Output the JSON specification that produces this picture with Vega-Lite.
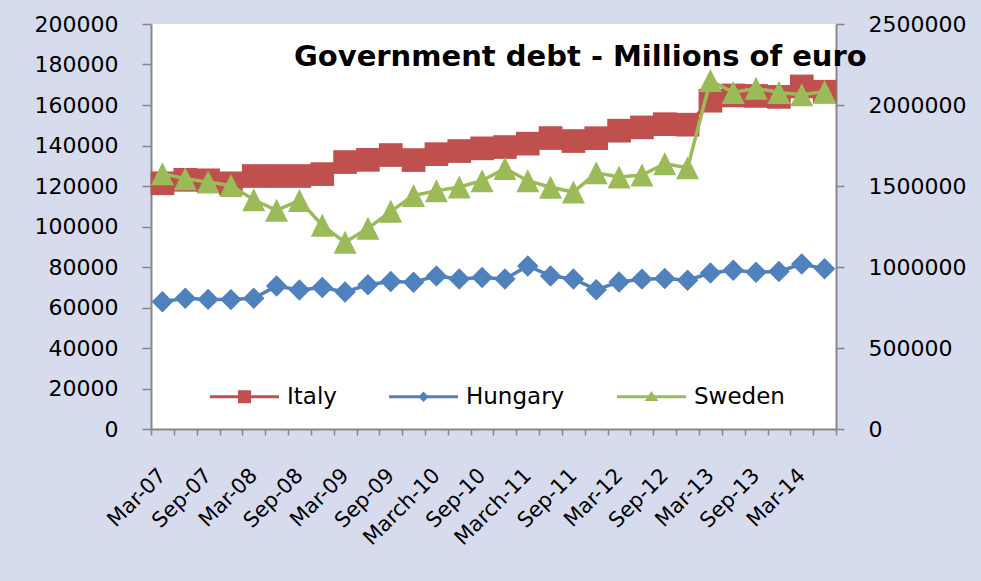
{
  "$schema": "https://vega.github.io/schema/vega-lite/v6.json",
  "width": 685,
  "height": 405,
  "autosize": {"type": "none"},
  "padding": {"left": 151, "top": 24, "right": 145, "bottom": 152},
  "background": "#d6dbee",
  "config": {
    "view": {"fill": "white", "stroke": null},
    "font": "DejaVu Sans",
    "axis": {
      "grid": false,
      "domainColor": "#878787",
      "domainWidth": 2,
      "tickColor": "#878787",
      "tickWidth": 1.5,
      "labelFont": "DejaVu Sans",
      "labelFontSize": 22,
      "labelColor": "#000000",
      "title": null
    }
  },
  "title": {
    "text": "Government debt - Millions of euro",
    "font": "DejaVu Sans",
    "fontSize": 29,
    "fontWeight": "bold",
    "color": "#000000",
    "anchor": "start",
    "frame": "group",
    "baseline": "alphabetic",
    "offset": 0,
    "dx": 143,
    "dy": 82
  },
  "datasets": {
    "debt": [
      {"quarter": "Mar-07", "country": "Italy", "debt": 1516600},
      {"quarter": "Jun-07", "country": "Italy", "debt": 1538200},
      {"quarter": "Sep-07", "country": "Italy", "debt": 1535100},
      {"quarter": "Dec-07", "country": "Italy", "debt": 1516600},
      {"quarter": "Mar-08", "country": "Italy", "debt": 1561600},
      {"quarter": "Jun-08", "country": "Italy", "debt": 1561600},
      {"quarter": "Sep-08", "country": "Italy", "debt": 1561600},
      {"quarter": "Dec-08", "country": "Italy", "debt": 1573300},
      {"quarter": "Mar-09", "country": "Italy", "debt": 1647900},
      {"quarter": "Jun-09", "country": "Italy", "debt": 1661500},
      {"quarter": "Sep-09", "country": "Italy", "debt": 1691100},
      {"quarter": "Dec-09", "country": "Italy", "debt": 1660200},
      {"quarter": "March-10", "country": "Italy", "debt": 1696600},
      {"quarter": "Jun-10", "country": "Italy", "debt": 1715700},
      {"quarter": "Sep-10", "country": "Italy", "debt": 1732400},
      {"quarter": "Dec-10", "country": "Italy", "debt": 1740400},
      {"quarter": "March-11", "country": "Italy", "debt": 1761300},
      {"quarter": "Jun-11", "country": "Italy", "debt": 1795900},
      {"quarter": "Sep-11", "country": "Italy", "debt": 1777400},
      {"quarter": "Dec-11", "country": "Italy", "debt": 1795200},
      {"quarter": "Mar-12", "country": "Italy", "debt": 1841500},
      {"quarter": "Jun-12", "country": "Italy", "debt": 1861800},
      {"quarter": "Sep-12", "country": "Italy", "debt": 1881600},
      {"quarter": "Dec-12", "country": "Italy", "debt": 1878500},
      {"quarter": "Mar-13", "country": "Italy", "debt": 2026400},
      {"quarter": "Jun-13", "country": "Italy", "debt": 2059000},
      {"quarter": "Sep-13", "country": "Italy", "debt": 2056000},
      {"quarter": "Dec-13", "country": "Italy", "debt": 2050000},
      {"quarter": "Mar-14", "country": "Italy", "debt": 2114600},
      {"quarter": "Jun-14", "country": "Italy", "debt": 2082000},
      {"quarter": "Mar-07", "country": "Hungary", "debt": 62800},
      {"quarter": "Jun-07", "country": "Hungary", "debt": 64600},
      {"quarter": "Sep-07", "country": "Hungary", "debt": 64000},
      {"quarter": "Dec-07", "country": "Hungary", "debt": 63900},
      {"quarter": "Mar-08", "country": "Hungary", "debt": 64600},
      {"quarter": "Jun-08", "country": "Hungary", "debt": 70600},
      {"quarter": "Sep-08", "country": "Hungary", "debt": 68600},
      {"quarter": "Dec-08", "country": "Hungary", "debt": 69900},
      {"quarter": "Mar-09", "country": "Hungary", "debt": 67700},
      {"quarter": "Jun-09", "country": "Hungary", "debt": 71200},
      {"quarter": "Sep-09", "country": "Hungary", "debt": 72800},
      {"quarter": "Dec-09", "country": "Hungary", "debt": 72500},
      {"quarter": "March-10", "country": "Hungary", "debt": 75600},
      {"quarter": "Jun-10", "country": "Hungary", "debt": 74100},
      {"quarter": "Sep-10", "country": "Hungary", "debt": 74800},
      {"quarter": "Dec-10", "country": "Hungary", "debt": 74100},
      {"quarter": "March-11", "country": "Hungary", "debt": 80500},
      {"quarter": "Jun-11", "country": "Hungary", "debt": 75600},
      {"quarter": "Sep-11", "country": "Hungary", "debt": 74100},
      {"quarter": "Dec-11", "country": "Hungary", "debt": 68800},
      {"quarter": "Mar-12", "country": "Hungary", "debt": 72600},
      {"quarter": "Jun-12", "country": "Hungary", "debt": 74000},
      {"quarter": "Sep-12", "country": "Hungary", "debt": 74300},
      {"quarter": "Dec-12", "country": "Hungary", "debt": 73500},
      {"quarter": "Mar-13", "country": "Hungary", "debt": 77000},
      {"quarter": "Jun-13", "country": "Hungary", "debt": 78400},
      {"quarter": "Sep-13", "country": "Hungary", "debt": 77400},
      {"quarter": "Dec-13", "country": "Hungary", "debt": 77800},
      {"quarter": "Mar-14", "country": "Hungary", "debt": 81500},
      {"quarter": "Jun-14", "country": "Hungary", "debt": 79100},
      {"quarter": "Mar-07", "country": "Sweden", "debt": 126100},
      {"quarter": "Jun-07", "country": "Sweden", "debt": 123600},
      {"quarter": "Sep-07", "country": "Sweden", "debt": 122000},
      {"quarter": "Dec-07", "country": "Sweden", "debt": 120200},
      {"quarter": "Mar-08", "country": "Sweden", "debt": 113200},
      {"quarter": "Jun-08", "country": "Sweden", "debt": 108000},
      {"quarter": "Sep-08", "country": "Sweden", "debt": 112900},
      {"quarter": "Dec-08", "country": "Sweden", "debt": 100600},
      {"quarter": "Mar-09", "country": "Sweden", "debt": 92200},
      {"quarter": "Jun-09", "country": "Sweden", "debt": 99100},
      {"quarter": "Sep-09", "country": "Sweden", "debt": 107500},
      {"quarter": "Dec-09", "country": "Sweden", "debt": 115300},
      {"quarter": "March-10", "country": "Sweden", "debt": 117600},
      {"quarter": "Jun-10", "country": "Sweden", "debt": 119500},
      {"quarter": "Sep-10", "country": "Sweden", "debt": 122600},
      {"quarter": "Dec-10", "country": "Sweden", "debt": 128700},
      {"quarter": "March-11", "country": "Sweden", "debt": 122600},
      {"quarter": "Jun-11", "country": "Sweden", "debt": 119400},
      {"quarter": "Sep-11", "country": "Sweden", "debt": 117000},
      {"quarter": "Dec-11", "country": "Sweden", "debt": 126500},
      {"quarter": "Mar-12", "country": "Sweden", "debt": 124400},
      {"quarter": "Jun-12", "country": "Sweden", "debt": 125400},
      {"quarter": "Sep-12", "country": "Sweden", "debt": 131000},
      {"quarter": "Dec-12", "country": "Sweden", "debt": 129000},
      {"quarter": "Mar-13", "country": "Sweden", "debt": 172100},
      {"quarter": "Jun-13", "country": "Sweden", "debt": 166200},
      {"quarter": "Sep-13", "country": "Sweden", "debt": 168300},
      {"quarter": "Dec-13", "country": "Sweden", "debt": 166200},
      {"quarter": "Mar-14", "country": "Sweden", "debt": 165100},
      {"quarter": "Jun-14", "country": "Sweden", "debt": 166700}
    ]
  },
  "data": {"name": "debt"},
  "encoding": {
    "x": {
      "field": "quarter",
      "type": "ordinal",
      "sort": ["Mar-07","Jun-07","Sep-07","Dec-07","Mar-08","Jun-08","Sep-08","Dec-08","Mar-09","Jun-09","Sep-09","Dec-09","March-10","Jun-10","Sep-10","Dec-10","March-11","Jun-11","Sep-11","Dec-11","Mar-12","Jun-12","Sep-12","Dec-12","Mar-13","Jun-13","Sep-13","Dec-13","Mar-14","Jun-14"],
      "scale": {"type": "band", "paddingInner": 0, "paddingOuter": 0},
      "axis": {
        "title": null,
        "tickBand": "extent",
        "tickSize": 6,
        "labelAngle": -45,
        "labelAlign": "right",
        "labelBaseline": "middle",
        "labelPadding": 37,
        "labelFontSize": 21,
        "labelOverlap": false,
        "labelExpr": "(indexof(datum.label,'Jun')==0 || indexof(datum.label,'Dec')==0) ? '' : datum.label"
      }
    },
    "color": {
      "field": "country",
      "type": "nominal",
      "scale": {"domain": ["Italy", "Hungary", "Sweden"], "range": ["#c0504d", "#4f81bd", "#9bbb59"]},
      "legend": {
        "title": null,
        "orient": "none",
        "direction": "horizontal",
        "legendX": 59,
        "legendY": 338,
        "padding": 0,
        "symbolSize": 4761,
        "symbolStrokeWidth": 0,
        "labelOffset": 8,
        "columnPadding": 52,
        "labelFont": "DejaVu Sans",
        "labelFontSize": 23,
        "labelColor": "#000000",
        "labelLimit": 300,
        "encode": {
          "symbols": {
            "update": {
              "shape": {"signal": "datum.value === 'Italy' ? 'M-1,-0.045H1V0.045H-1Z M-0.19,-0.19H0.19V0.19H-0.19Z' : (datum.value === 'Hungary' ? 'M-1,-0.045H1V0.045H-1Z M0,-0.15L0.15,0L0,0.15L-0.15,0Z' : 'M-1,-0.045H1V0.045H-1Z M0,-0.17L0.2,0.12H-0.2Z')"},
              "fill": {"signal": "datum.value === 'Italy' ? '#c0504d' : (datum.value === 'Hungary' ? '#4f81bd' : '#9bbb59')"},
              "stroke": {"value": "transparent"},
              "strokeWidth": {"value": 0},
              "opacity": {"value": 1},
              "fillOpacity": {"value": 1}
            }
          }
        }
      }
    }
  },
  "layer": [
    {
      "transform": [{"filter": "datum.country === 'Italy'"}],
      "encoding": {
        "y": {
          "field": "debt",
          "type": "quantitative",
          "scale": {"domain": [0, 2500000], "nice": false},
          "axis": {
            "orient": "right",
            "title": null,
            "values": [0, 500000, 1000000, 1500000, 2000000, 2500000],
            "format": "d",
            "tickSize": 8,
            "labelPadding": 24
          }
        }
      },
      "layer": [
        {"mark": {"type": "line", "strokeWidth": 3.5}},
        {"mark": {"type": "point", "shape": "square", "filled": true, "opacity": 1, "size": 560}}
      ]
    },
    {
      "transform": [{"filter": "datum.country !== 'Italy'"}],
      "encoding": {
        "y": {
          "field": "debt",
          "type": "quantitative",
          "scale": {"domain": [0, 200000], "nice": false},
          "axis": {
            "orient": "left",
            "title": null,
            "values": [0, 20000, 40000, 60000, 80000, 100000, 120000, 140000, 160000, 180000, 200000],
            "format": "d",
            "tickSize": 9,
            "labelPadding": 24
          }
        }
      },
      "layer": [
        {"transform": [{"filter": "datum.country === 'Hungary'"}], "mark": {"type": "line", "strokeWidth": 3.5}},
        {"transform": [{"filter": "datum.country === 'Hungary'"}], "mark": {"type": "point", "shape": "diamond", "filled": true, "opacity": 1, "size": 460}},
        {"transform": [{"filter": "datum.country === 'Sweden'"}], "mark": {"type": "line", "strokeWidth": 3.5}},
        {"transform": [{"filter": "datum.country === 'Sweden'"}], "mark": {"type": "point", "shape": "M0,-1L1,1L-1,1Z", "filled": true, "opacity": 1, "size": 529}}
      ]
    }
  ],
  "resolve": {"scale": {"y": "independent"}}
}
